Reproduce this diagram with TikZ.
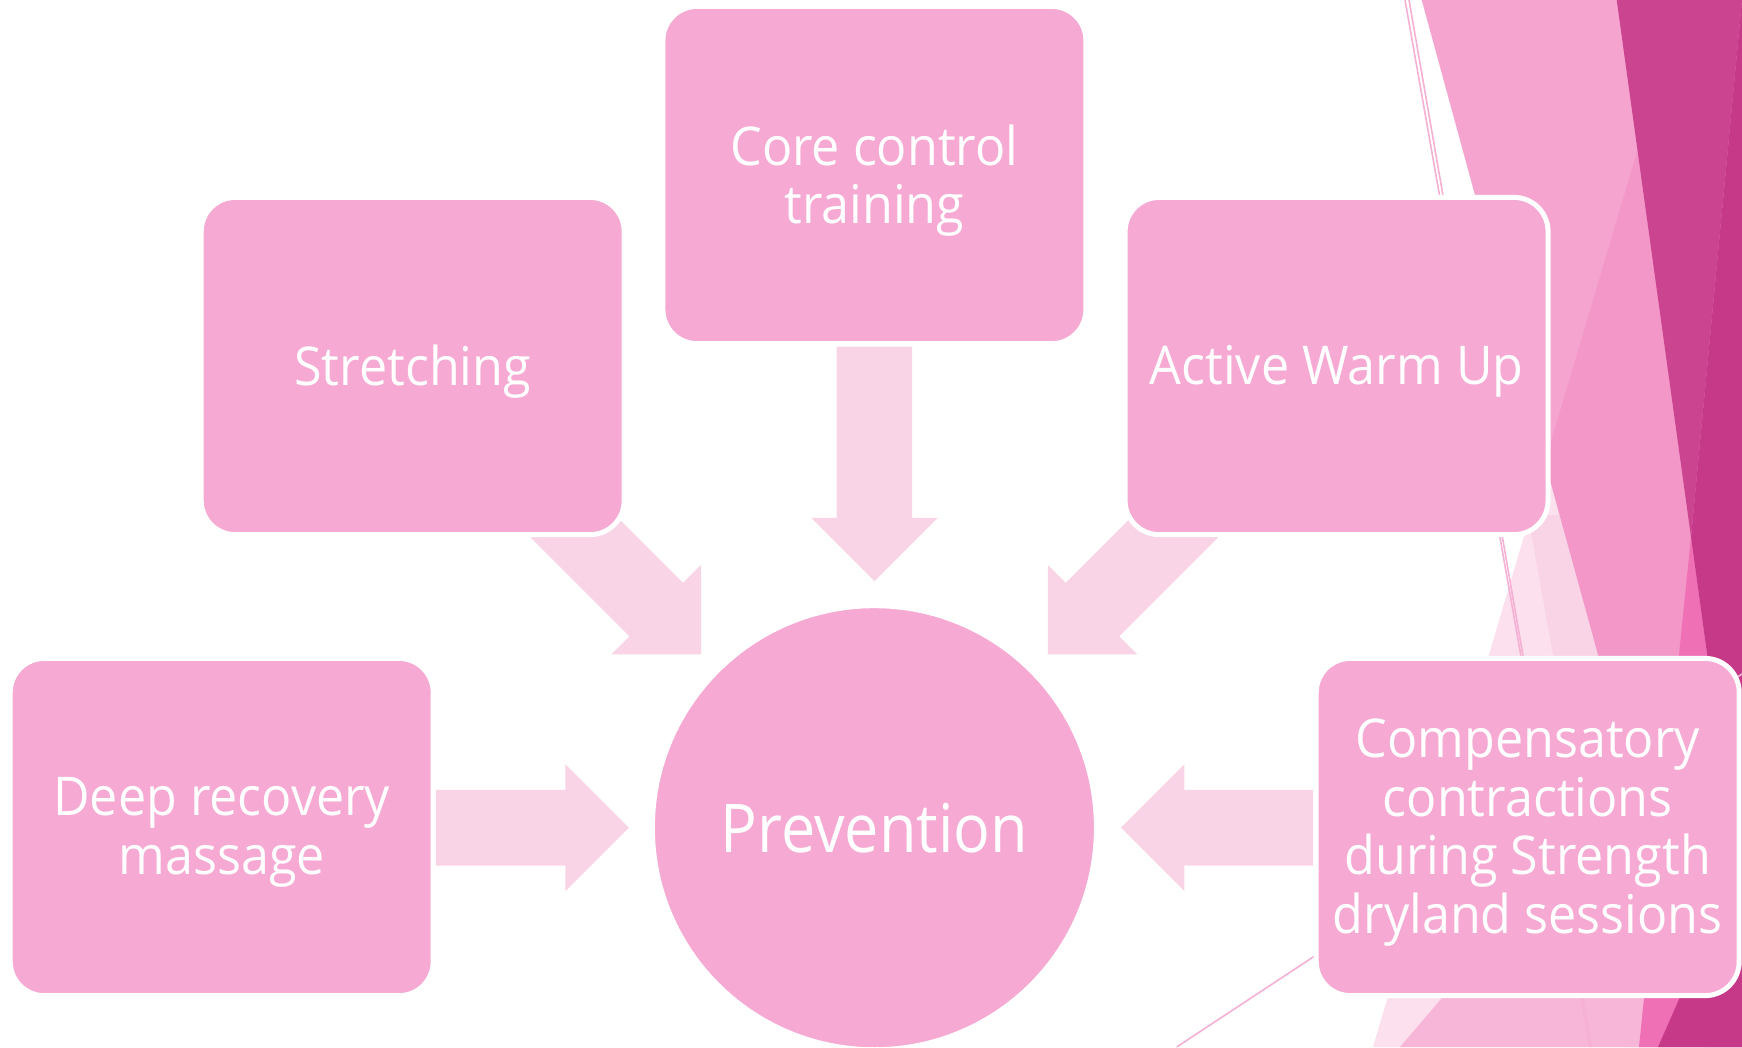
\documentclass[tikz,border=0pt]{standalone}
\usepackage{fontspec}
\setmainfont{Open Sans}[FakeStretch=0.94]
\newfontfamily\hubfont{Open Sans}[FakeStretch=0.91]
\usetikzlibrary{calc}

\definecolor{boxpink}{HTML}{F5A9D3}
\definecolor{arrowpink}{HTML}{F8D4E6}
\definecolor{facetpalest}{HTML}{FCE0EE}
\definecolor{facetpale}{HTML}{F9D3E6}
\definecolor{facetrose}{HTML}{F7B5D8}
\definecolor{facetlight}{HTML}{F5A4D0}
\definecolor{facetmid}{HTML}{F396C8}
\definecolor{facetbright}{HTML}{F070B6}
\definecolor{facetdark}{HTML}{CB4490}
\definecolor{facetdeep}{HTML}{C63888}
\definecolor{linepink}{HTML}{F5B0D4}

% block arrow from tail coordinate #1 to tip coordinate #2
\newcommand\blockarrow[2]{%
  \path ($(#2)!0.633cm!(#1)$) coordinate (ba-h);
  \fill[arrowfill]
    ($(#1)!0.378cm!90:(#2)$) --
    ($(ba-h)!0.378cm!-90:(#1)$) --
    ($(ba-h)!0.633cm!-90:(#1)$) --
    (#2) --
    ($(ba-h)!0.633cm!90:(#1)$) --
    ($(ba-h)!0.378cm!90:(#1)$) --
    ($(#1)!0.378cm!-90:(#2)$) -- cycle;}

\begin{document}
\begin{tikzpicture}[x=0.01cm, y=-0.01cm,
  box/.style={rectangle, draw=white, line width=1.42pt, fill=boxpink,
    rounded corners=0.34cm, minimum width=4.227cm, minimum height=3.37cm,
    inner sep=0pt},
  boxtext/.style={inner sep=0pt, text=white, align=center,
    font=\fontsize{15.2pt}{16.6pt}\selectfont},
  hub/.style={circle, draw=white, line width=1.42pt, fill=boxpink,
    minimum size=4.438cm, inner sep=0pt, text=white,
    font=\hubfont\fontsize{19.1pt}{20pt}\selectfont},
  arrowfill/.style={fill=arrowpink},
  hairline/.style={draw=linepink, line width=0.45pt}]

\useasboundingbox (0,0) rectangle (1742,1047);
\fill[white] (0,0) rectangle (1742,1047);

\begin{scope}
\clip (0,0) rectangle (1742,1047);

% faceted band on the right edge
\fill[facetpalest] (1548,455) -- (1373,1047) -- (1742,1047) -- (1742,455) -- cycle;
\fill[facetpale]   (1528,515) -- (1623,1047) -- (1742,1047) -- (1742,515) -- cycle;
\fill[facetrose]   (1500,930) -- (1400,1047) -- (1742,1047) -- (1742,930) -- cycle;
\fill[facetlight]  (1421.7,0) -- (1742,0) -- (1742,560) -- (1567,532) -- cycle;
\fill[facetmid]    (1636.7,153) -- (1545,462) -- (1706,1047) -- (1742,1047)
                   -- (1742,0) -- (1680,0) -- cycle;
\fill[facetbright] (1691,537) -- (1639,1047) -- (1742,1047) -- (1742,908) -- cycle;
\fill[facetdark]   (1616.7,0) -- (1742,0) -- (1691,537) -- cycle;
\fill[facetdeep]   (1742,0) -- (1691,537) -- (1742,908) -- cycle;
\fill[facetdeep]   (1742,856) -- (1658,1047) -- (1742,1047) -- cycle;

\draw[hairline] (1405,0) -- (1590,1047);
\draw[hairline] (1409,0) -- (1591,1047);
\draw[hairline] (1176.7,1047) -- (1742,674);

% arrow ends
\coordinate (core-tail)  at (874.4,346.6);
\coordinate (core-tip)   at (874.4,581.1);
\coordinate (str-tail)   at (535.5,488.9);
\coordinate (str-tip)    at (701,654.4);
\coordinate (act-tail)   at (1213.3,488.9);
\coordinate (act-tip)    at (1047.8,654.4);
\coordinate (deep-tail)  at (435.5,827.7);
\coordinate (deep-tip)   at (628.8,827.7);
\coordinate (comp-tail)  at (1313.2,827.7);
\coordinate (comp-tip)   at (1121,827.7);

\blockarrow{core-tail}{core-tip}
\blockarrow{str-tail}{str-tip}
\blockarrow{act-tail}{act-tip}
\blockarrow{deep-tail}{deep-tip}
\blockarrow{comp-tail}{comp-tip}

% boxes and hub
\node[box] (core)    at (874.4,175)  {};
\node[box] (stretch) at (412.7,366)  {};
\node[box] (active)  at (1336.6,366) {};
\node[box] (deep)    at (221.7,827)  {};
\node[box] (comp)    at (1527.7,827) {};
\node[hub] (prev)    at (874.4,827.7) {Prevention};

% box captions, set a little below each centre
\node[boxtext] (core-text)    at ($(core)+(0,5.5)$)    {Core control\\training};
\node[boxtext] (stretch-text) at ($(stretch)+(0,5.5)$) {Stretching};
\node[boxtext] (active-text)  at ($(active)+(0,5.5)$)  {Active Warm Up};
\node[boxtext] (deep-text)    at ($(deep)+(0,5.5)$)    {Deep recovery\\massage};
\node[boxtext] (comp-text)    at ($(comp)+(0,5.5)$)    {Compensatory\\contractions\\during Strength\\dryland sessions};
\end{scope}
\end{tikzpicture}
\end{document}
